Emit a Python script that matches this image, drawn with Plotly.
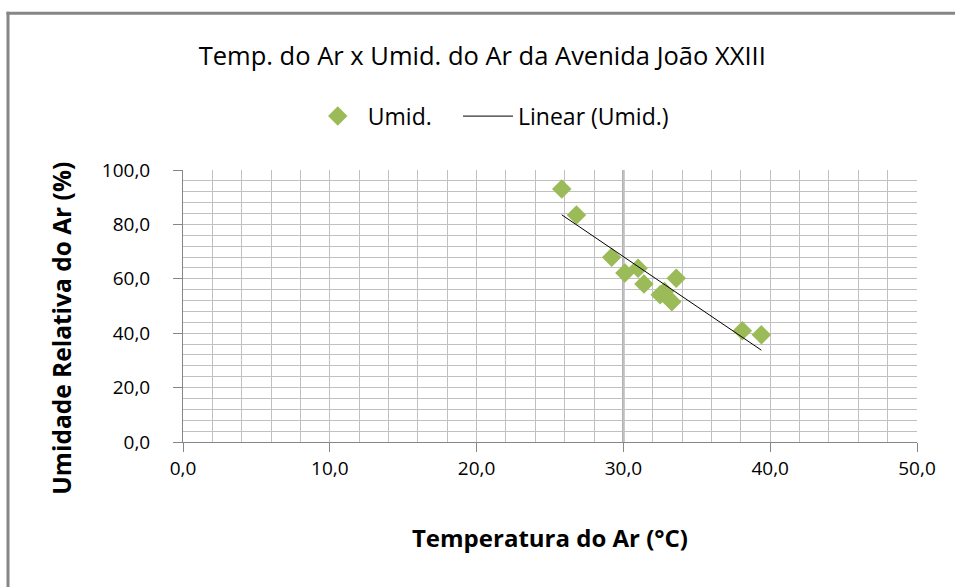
import numpy as np
import plotly.graph_objects as go

# Data
temperatura = [25.8, 26.8, 29.2, 30.1, 31.0, 31.4, 32.5, 32.8, 33.3, 33.6, 38.1, 39.4]
umidade = [93.0, 83.5, 67.9, 62.1, 63.9, 58.1, 54.1, 55.3, 51.6, 60.2, 40.9, 39.4]

title_text = "Temp. do Ar x Umid. do Ar da Avenida João XXIII"
x_title = "Temperatura do Ar (°C)"
y_title = "Umidade Relativa do Ar (%)"

# Linear trendline (least squares), spanning the data range
coef = np.polyfit(temperatura, umidade, 1)
trend_x = [min(temperatura), max(temperatura)]
trend_y = [coef[0] * v + coef[1] for v in trend_x]

FONT = "Open Sans"
fig = go.Figure()
fig.add_trace(go.Scatter(
    x=temperatura, y=umidade, mode="markers", name="Umid.", legend="legend",
    marker=dict(symbol="diamond", size=15, color="#9BBB59", line=dict(width=0)),
))
fig.add_trace(go.Scatter(
    x=trend_x, y=trend_y, mode="lines", name="Linear (Umid.)", legend="legend2",
    line=dict(color="black", width=1),
))

fig.add_vline(x=30, line=dict(color="#7F7F7F", width=2), layer="below")

legend_common = dict(orientation="h", xanchor="left", y=1.198, yanchor="middle",
                     font=dict(family=FONT, size=23), itemwidth=50,
                     bgcolor="rgba(0,0,0,0)")

fig.update_layout(
    width=955, height=587,
    margin=dict(l=183, r=38, t=170, b=145),
    paper_bgcolor="white", plot_bgcolor="white",
    separators=",.",
    font=dict(family=FONT, size=19, color="black"),
    title=dict(text=title_text, x=0.505, xanchor="center", y=0.905, yanchor="middle",
               font=dict(family=FONT, size=25.5, color="black")),
    showlegend=True,
    legend=dict(x=0.17, **legend_common),
    legend2=dict(x=0.3747, **legend_common),
    xaxis=dict(
        range=[0, 50], tickmode="linear", tick0=0, dtick=10, tickformat=".1f",
        showgrid=True, gridcolor="#C0C0C0", gridwidth=1,
        minor=dict(dtick=2, showgrid=True, gridcolor="#C0C0C0", gridwidth=1),
        showline=True, linecolor="#868686", linewidth=1,
        ticks="outside", ticklen=9, tickcolor="#868686",
        ticklabelstandoff=0, zeroline=False, fixedrange=True,
        title=dict(text="<b>" + x_title + "</b>", font=dict(family=FONT, size=24), standoff=50),
    ),
    yaxis=dict(
        range=[0, 100], tickmode="linear", tick0=0, dtick=20, tickformat=".1f",
        showgrid=True, gridcolor="#C0C0C0", gridwidth=1,
        minor=dict(dtick=4, showgrid=True, gridcolor="#C0C0C0", gridwidth=1),
        showline=True, linecolor="#868686", linewidth=1,
        ticks="outside", ticklen=9, tickcolor="#868686",
        ticklabelstandoff=19, zeroline=False, fixedrange=True,
    ),
)

# Y axis title placed as annotation to match the reference position
fig.add_annotation(
    text="<b>" + y_title + "</b>", textangle=-90,
    xref="paper", yref="paper", x=-0.165, y=0.42, xanchor="center", yanchor="middle",
    showarrow=False, font=dict(family=FONT, size=24.5, color="black"),
)

# Outer chart border (top and left edges visible in the reference)
fig.add_shape(type="line", xref="paper", yref="paper", x0=-0.2405, x1=1.06, y0=1.5766, y1=1.5766,
              line=dict(color="#868686", width=3))
fig.add_shape(type="line", xref="paper", yref="paper", x0=-0.2384, x1=-0.2384, y0=1.582, y1=-0.6,
              line=dict(color="#868686", width=3))

fig.write_html("out.html", config={"displayModeBar": False},
               post_script="document.body.style.margin='0';")
